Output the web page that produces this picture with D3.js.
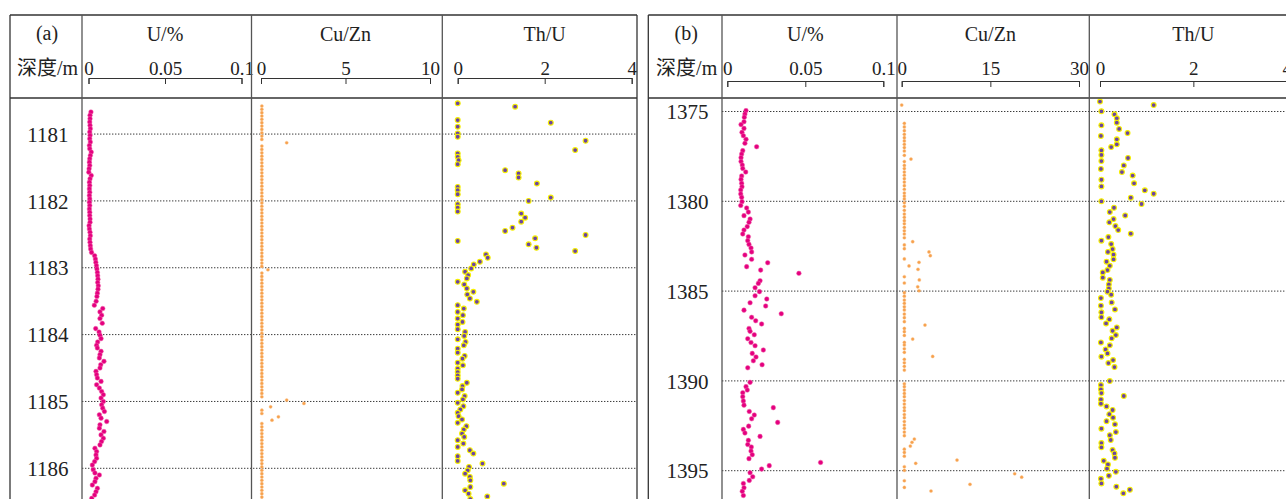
<!DOCTYPE html>
<html>
<head>
<meta charset="utf-8">
<script src="https://cdn.jsdelivr.net/npm/d3@7"></script>
<style>
  body { margin: 0; background: #fff; }
  svg { display: block; }
  text { font-family: "Liberation Serif", "Times New Roman", "Noto Sans CJK SC", serif; fill: #222; }
</style>
</head>
<body>
<div id="chart"></div>
<script>
// ---- data: [depth (m), value] ----
const depthTicksA = [1181, 1182, 1183, 1184, 1185, 1186];
const depthTicksB = [1375, 1380, 1385, 1390, 1395];
const uTicks = [0, 0.05, 0.1];
const cuznTicksA = [0, 5, 10];
const cuznTicksB = [0, 15, 30];
const thuTicks = [0, 2, 4];
const trackTitles = ["U/%", "Cu/Zn", "Th/U"];

const uA = [
  [1180.67,0.0016],[1180.72,0.0010],[1180.77,0.0010],[1180.82,0.0008],[1180.87,0.0010],[1180.92,0.0012],[1180.97,0.0008],[1181.02,0.0010],
  [1181.07,0.0008],[1181.12,0.0012],[1181.17,0.0006],[1181.22,0.0008],[1181.27,0.0018],[1181.32,0.0012],[1181.37,0.0008],[1181.42,0.0006],
  [1181.47,0.0008],[1181.52,0.0004],[1181.57,0.0002],[1181.62,0.0018],[1181.67,0.0010],[1181.72,0.0006],[1181.77,0.0008],[1181.82,0.0006],
  [1181.87,0.0008],[1181.92,0.0006],[1181.97,0.0008],[1182.02,0.0006],[1182.07,0.0008],[1182.12,0.0006],[1182.17,0.0008],[1182.22,0.0008],
  [1182.27,0.0010],[1182.32,0.0010],[1182.37,0.0004],[1182.42,0.0006],[1182.47,0.0010],[1182.52,0.0012],[1182.57,0.0008],[1182.62,0.0010],
  [1182.67,0.0012],[1182.72,0.0014],[1182.77,0.0020],[1182.82,0.0040],[1182.87,0.0045],[1182.92,0.0048],[1182.97,0.0052],[1183.02,0.0055],
  [1183.07,0.0058],[1183.12,0.0060],[1183.17,0.0062],[1183.22,0.0060],[1183.27,0.0064],[1183.32,0.0062],[1183.38,0.0058],[1183.43,0.0055],
  [1183.50,0.0050],[1183.56,0.0038],[1183.61,0.0093],[1183.66,0.0075],[1183.71,0.0086],[1183.76,0.0075],[1183.83,0.0090],[1183.91,0.0047],
  [1183.96,0.0069],[1184.01,0.0075],[1184.06,0.0082],[1184.11,0.0060],[1184.16,0.0053],[1184.20,0.0058],[1184.25,0.0082],[1184.30,0.0075],
  [1184.35,0.0071],[1184.40,0.0101],[1184.45,0.0080],[1184.50,0.0075],[1184.55,0.0049],[1184.60,0.0053],[1184.65,0.0058],[1184.70,0.0082],
  [1184.75,0.0053],[1184.80,0.0071],[1184.85,0.0086],[1184.90,0.0097],[1184.95,0.0082],[1185.00,0.0097],[1185.05,0.0086],[1185.10,0.0093],
  [1185.15,0.0104],[1185.20,0.0071],[1185.25,0.0082],[1185.30,0.0119],[1185.35,0.0075],[1185.40,0.0071],[1185.45,0.0101],[1185.50,0.0082],
  [1185.55,0.0097],[1185.60,0.0085],[1185.65,0.0075],[1185.70,0.0042],[1185.75,0.0053],[1185.80,0.0049],[1185.85,0.0053],[1185.90,0.0040],
  [1185.95,0.0025],[1186.02,0.0031],[1186.07,0.0042],[1186.10,0.0071],[1186.15,0.0049],[1186.20,0.0042],[1186.25,0.0025],[1186.30,0.0058],
  [1186.35,0.0049],[1186.40,0.0040],[1186.45,0.0021]
];

const cuznA = [
  [1180.58,0.05],[1180.63,0.05],[1180.68,0.05],[1180.73,0.05],[1180.78,0.05],[1180.83,0.05],[1180.88,0.05],[1180.93,0.05],
  [1180.98,0.05],[1181.03,0.05],[1181.08,0.05],[1181.13,1.52],[1181.18,0.05],[1181.23,0.05],[1181.28,0.05],[1181.33,0.05],
  [1181.38,0.05],[1181.43,0.05],[1181.48,0.05],[1181.53,0.05],[1181.58,0.05],[1181.63,0.05],[1181.68,0.05],[1181.73,0.05],
  [1181.78,0.05],[1181.83,0.05],[1181.88,0.05],[1181.93,0.05],[1181.98,0.05],[1182.03,0.05],[1182.08,0.05],[1182.13,0.05],
  [1182.18,0.05],[1182.23,0.05],[1182.28,0.05],[1182.33,0.05],[1182.38,0.05],[1182.43,0.05],[1182.48,0.05],[1182.53,0.05],
  [1182.58,0.05],[1182.63,0.05],[1182.68,0.05],[1182.73,0.05],[1182.78,0.05],[1182.83,0.05],[1182.88,0.05],[1182.93,0.05],
  [1182.98,0.05],[1183.03,0.41],[1183.08,0.05],[1183.13,0.05],[1183.18,0.05],[1183.23,0.05],[1183.28,0.05],[1183.33,0.05],
  [1183.38,0.05],[1183.43,0.05],[1183.48,0.05],[1183.53,0.05],[1183.58,0.05],[1183.63,0.05],[1183.68,0.05],[1183.73,0.05],
  [1183.78,0.05],[1183.83,0.05],[1183.88,0.05],[1183.93,0.05],[1183.98,0.05],[1184.03,0.05],[1184.08,0.05],[1184.13,0.05],
  [1184.18,0.05],[1184.23,0.05],[1184.28,0.05],[1184.33,0.05],[1184.38,0.05],[1184.43,0.05],[1184.48,0.05],[1184.53,0.05],
  [1184.58,0.05],[1184.63,0.05],[1184.68,0.05],[1184.73,0.05],[1184.78,0.05],[1184.83,0.05],[1184.88,0.05],[1184.93,0.05],
  [1184.98,1.52],[1185.03,2.54],[1185.08,0.57],[1185.13,0.05],[1185.18,0.05],[1185.23,1.03],[1185.28,0.65],[1185.33,0.05],
  [1185.38,0.05],[1185.43,0.05],[1185.48,0.05],[1185.53,0.05],[1185.58,0.05],[1185.63,0.05],[1185.68,0.05],[1185.73,0.05],
  [1185.78,0.05],[1185.83,0.05],[1185.88,0.05],[1185.93,0.05],[1185.98,0.05],[1186.03,0.05],[1186.08,0.05],[1186.13,0.05],
  [1186.18,0.05],[1186.23,0.05],[1186.28,0.05],[1186.33,0.05],[1186.38,0.05],[1186.43,0.05],[1186.48,0.05]
];

const thuA = [
  [1180.54,0.00],[1180.59,1.32],[1180.79,0.00],[1180.83,2.14],[1180.89,0.00],[1180.99,0.00],[1181.04,0.00],[1181.10,2.94],
  [1181.24,2.70],[1181.29,0.00],[1181.34,0.00],[1181.39,0.02],[1181.45,0.00],[1181.54,1.09],[1181.59,1.40],[1181.65,1.40],
  [1181.74,1.82],[1181.79,0.00],[1181.84,0.00],[1181.90,0.00],[1181.95,2.14],[1182.00,1.63],[1182.05,0.00],[1182.10,0.00],
  [1182.16,0.00],[1182.19,1.46],[1182.25,1.55],[1182.31,1.46],[1182.40,1.26],[1182.45,1.09],[1182.51,2.94],[1182.56,1.78],
  [1182.60,0.00],[1182.65,1.63],[1182.70,1.81],[1182.75,2.70],[1182.80,0.65],[1182.85,0.69],[1182.91,0.51],[1182.95,0.37],
  [1183.01,0.31],[1183.06,0.17],[1183.11,0.24],[1183.16,0.21],[1183.21,0.00],[1183.25,0.15],[1183.31,0.21],[1183.36,0.36],
  [1183.40,0.22],[1183.46,0.28],[1183.51,0.44],[1183.56,0.00],[1183.61,0.14],[1183.66,0.00],[1183.71,0.12],[1183.76,0.00],
  [1183.81,0.11],[1183.85,0.00],[1183.92,0.00],[1183.96,0.17],[1184.02,0.15],[1184.07,0.00],[1184.11,0.18],[1184.16,0.14],
  [1184.21,0.00],[1184.27,0.00],[1184.32,0.16],[1184.36,0.11],[1184.42,0.00],[1184.46,0.12],[1184.51,0.00],[1184.56,0.00],
  [1184.61,0.00],[1184.66,0.00],[1184.72,0.21],[1184.77,0.11],[1184.82,0.10],[1184.87,0.00],[1184.92,0.16],[1184.97,0.12],
  [1185.02,0.00],[1185.07,0.13],[1185.12,0.06],[1185.17,0.00],[1185.22,0.02],[1185.27,0.10],[1185.32,0.00],[1185.37,0.20],
  [1185.42,0.14],[1185.48,0.10],[1185.53,0.15],[1185.58,0.00],[1185.63,0.13],[1185.68,0.00],[1185.73,0.28],[1185.78,0.36],
  [1185.82,0.00],[1185.89,0.00],[1185.93,0.57],[1185.98,0.26],[1186.03,0.23],[1186.08,0.17],[1186.13,0.28],[1186.18,0.29],
  [1186.23,1.06],[1186.28,0.29],[1186.33,0.17],[1186.38,0.25],[1186.42,0.68],[1186.46,0.29]
];

const uB = [
  [1374.95,0.0120],[1375.14,0.0113],[1375.32,0.0109],[1375.57,0.0107],[1375.73,0.0088],[1375.94,0.0107],[1376.16,0.0094],[1376.35,0.0103],
  [1376.55,0.0120],[1376.77,0.0113],[1376.96,0.0188],[1377.18,0.0099],[1377.37,0.0092],[1377.57,0.0088],[1377.78,0.0088],[1377.98,0.0096],
  [1378.17,0.0099],[1378.37,0.0118],[1378.59,0.0092],[1378.78,0.0088],[1379.00,0.0092],[1379.19,0.0094],[1379.37,0.0086],[1379.59,0.0086],
  [1379.78,0.0092],[1380.02,0.0094],[1380.23,0.0086],[1380.37,0.0124],[1380.60,0.0135],[1380.80,0.0107],[1380.99,0.0146],[1381.17,0.0139],
  [1381.41,0.0128],[1381.60,0.0107],[1381.82,0.0099],[1381.97,0.0135],[1382.19,0.0131],[1382.40,0.0139],[1382.60,0.0152],[1382.82,0.0156],
  [1382.99,0.0113],[1383.23,0.0156],[1383.42,0.0259],[1383.64,0.0124],[1383.83,0.0214],[1384.01,0.0459],[1384.42,0.0210],[1384.57,0.0199],
  [1384.81,0.0178],[1385.03,0.0206],[1385.26,0.0178],[1385.44,0.0253],[1385.65,0.0146],[1385.83,0.0246],[1386.06,0.0107],[1386.26,0.0346],
  [1386.46,0.0156],[1386.65,0.0182],[1386.83,0.0220],[1387.08,0.0139],[1387.24,0.0146],[1387.43,0.0173],[1387.65,0.0131],[1387.86,0.0152],
  [1388.04,0.0178],[1388.28,0.0231],[1388.47,0.0160],[1388.67,0.0184],[1388.88,0.0167],[1389.10,0.0223],[1389.27,0.0131],[1390.08,0.0146],
  [1390.32,0.0120],[1390.51,0.0128],[1390.66,0.0099],[1390.88,0.0099],[1391.12,0.0103],[1391.35,0.0107],[1391.49,0.0295],[1391.70,0.0141],
  [1391.90,0.0173],[1392.11,0.0156],[1392.31,0.0323],[1392.52,0.0137],[1392.70,0.0103],[1392.90,0.0113],[1393.09,0.0210],[1393.31,0.0135],
  [1393.54,0.0131],[1393.68,0.0154],[1393.91,0.0152],[1394.11,0.0160],[1394.33,0.0139],[1394.54,0.0598],[1394.72,0.0269],[1394.91,0.0220],
  [1395.11,0.0146],[1395.34,0.0163],[1395.54,0.0141],[1395.71,0.0103],[1395.95,0.0107],[1396.15,0.0096],[1396.38,0.0103]
];

const cuznB = [
  [1374.64,0.00],[1375.66,0.45],[1375.86,0.45],[1376.07,0.45],[1376.27,0.45],[1376.46,0.45],[1376.64,0.45],[1376.83,0.45],
  [1377.01,0.45],[1377.20,0.45],[1377.44,0.45],[1377.65,1.57],[1377.79,0.45],[1378.00,0.45],[1378.18,0.45],[1378.37,0.45],
  [1378.55,0.45],[1378.74,0.45],[1378.93,0.45],[1379.13,0.45],[1379.33,0.45],[1379.54,0.45],[1379.71,0.45],[1379.87,0.45],
  [1380.08,0.45],[1380.28,0.45],[1380.50,0.45],[1380.71,0.45],[1380.89,0.45],[1381.08,0.45],[1381.25,0.45],[1381.45,0.45],
  [1381.64,0.45],[1381.82,0.45],[1382.03,0.45],[1382.25,1.86],[1382.43,0.45],[1382.64,0.45],[1382.82,4.62],[1383.03,4.84],
  [1383.21,0.45],[1383.40,2.93],[1383.60,1.24],[1383.79,2.76],[1384.20,0.45],[1384.38,2.98],[1384.55,0.45],[1384.76,2.71],
  [1384.98,2.93],[1385.09,0.45],[1385.28,0.45],[1385.50,0.45],[1385.68,0.45],[1385.87,0.45],[1386.05,0.45],[1386.28,0.45],
  [1386.48,0.45],[1386.70,0.45],[1386.89,3.94],[1387.08,0.45],[1387.26,0.45],[1387.47,0.45],[1387.67,1.86],[1387.86,0.45],
  [1388.00,0.45],[1388.21,0.45],[1388.41,0.45],[1388.64,5.24],[1388.80,0.45],[1388.99,0.45],[1389.19,0.45],[1389.40,0.45],
  [1390.16,0.45],[1390.32,0.45],[1390.51,0.45],[1390.70,0.45],[1390.88,0.45],[1391.09,0.45],[1391.29,0.45],[1391.48,0.45],
  [1391.66,0.45],[1391.87,0.45],[1392.05,0.45],[1392.26,0.45],[1392.46,0.45],[1392.64,0.45],[1392.85,0.45],[1393.05,0.45],
  [1393.24,2.14],[1393.42,1.74],[1393.63,1.46],[1393.80,0.45],[1393.98,0.45],[1394.19,0.45],[1394.41,9.36],[1394.59,2.37],
  [1394.78,0.45],[1394.98,0.45],[1395.17,19.12],[1395.36,20.30],[1395.56,0.45],[1395.76,11.56],[1395.93,0.45],[1396.13,4.96]
];

const thuB = [
  [1374.45,0.00],[1374.64,1.15],[1374.99,0.03],[1375.16,0.31],[1375.38,0.36],[1375.62,0.36],[1375.77,0.03],[1375.97,0.41],
  [1376.20,0.59],[1376.36,0.02],[1376.55,0.36],[1376.83,0.36],[1376.98,0.24],[1377.16,0.03],[1377.42,0.03],[1377.59,0.60],
  [1377.76,0.03],[1378.00,0.51],[1378.20,0.02],[1378.37,0.47],[1378.57,0.70],[1378.80,0.03],[1379.00,0.73],[1379.17,0.03],
  [1379.39,0.96],[1379.58,1.15],[1379.80,0.66],[1380.00,0.03],[1380.15,0.89],[1380.36,0.30],[1380.60,0.21],[1380.79,0.54],
  [1380.99,0.29],[1381.17,0.20],[1381.38,0.33],[1381.60,0.39],[1381.80,0.66],[1381.99,0.18],[1382.19,0.03],[1382.38,0.24],
  [1382.66,0.27],[1382.82,0.17],[1382.97,0.29],[1383.23,0.29],[1383.36,0.14],[1383.59,0.21],[1383.83,0.16],[1383.96,0.06],
  [1384.25,0.06],[1384.38,0.21],[1384.63,0.19],[1384.85,0.19],[1385.03,0.16],[1385.20,0.24],[1385.39,0.02],[1385.63,0.25],
  [1385.81,0.02],[1386.02,0.32],[1386.18,0.03],[1386.45,0.03],[1386.57,0.20],[1386.80,0.13],[1387.02,0.36],[1387.21,0.27],
  [1387.45,0.34],[1387.63,0.25],[1387.86,0.02],[1388.02,0.21],[1388.25,0.12],[1388.47,0.16],[1388.65,0.03],[1388.84,0.28],
  [1389.01,0.18],[1389.23,0.31],[1390.01,0.21],[1390.23,0.02],[1390.47,0.02],[1390.68,0.03],[1390.84,0.51],[1391.03,0.02],
  [1391.27,0.02],[1391.42,0.14],[1391.62,0.27],[1391.85,0.20],[1392.05,0.28],[1392.24,0.14],[1392.42,0.32],[1392.66,0.03],
  [1392.85,0.34],[1393.02,0.21],[1393.29,0.23],[1393.46,0.03],[1393.70,0.03],[1393.85,0.27],[1394.04,0.31],[1394.28,0.32],
  [1394.45,0.08],[1394.65,0.17],[1394.89,0.15],[1395.06,0.34],[1395.28,0.19],[1395.45,0.02],[1395.71,0.03],[1395.89,0.35],
  [1396.06,0.64],[1396.26,0.50]
];

// ---- layout & styles ----
const WIDTH = 1286, HEIGHT = 499;
const TOP = 15, HEADER_BOTTOM = 98;
const markStyles = {
  u:    { r: 2.3, fill: "#e4007f", stroke: "#f060a8", sw: 0.5 },
  cuzn: { r: 1.6, fill: "#f7a04c", stroke: "#fbc48e", sw: 0.4 },
  thu:  { r: 2.45, fill: "#6c45a0", stroke: "#f6f000", sw: 1.1 }
};

const panels = [
  {
    label: "(a)", cols: [10, 82, 251.5, 442.3, 637],
    depthDomain: [1181, 1186], depthRange: [134.07, 468.3], depthTicks: depthTicksA, axisY: 78,
    tracks: [
      { domain: [0, 0.1], range: [88.5, 241.5], ticks: uTicks, data: uA, style: "u" },
      { domain: [0, 10], range: [261, 430], ticks: cuznTicksA, data: cuznA, style: "cuzn" },
      { domain: [0, 4], range: [457.7, 631.7], ticks: thuTicks, data: thuA, style: "thu" }
    ]
  },
  {
    label: "(b)", cols: [648.3, 722, 897, 1089.3, 1300],
    depthDomain: [1375, 1395], depthRange: [111.5, 470.7], depthTicks: depthTicksB, axisY: 81,
    tracks: [
      { domain: [0, 0.1], range: [727.3, 883.3], ticks: uTicks, data: uB, style: "u" },
      { domain: [0, 30], range: [901.7, 1079], ticks: cuznTicksB, data: cuznB, style: "cuzn" },
      { domain: [0, 4], range: [1100, 1286.7], ticks: thuTicks, data: thuB, style: "thu" }
    ]
  }
];

const svg = d3.select("#chart").append("svg")
  .attr("width", WIDTH).attr("height", HEIGHT)
  .style("background", "#fff");

svg.append("defs").append("clipPath").attr("id", "plotClip")
  .append("rect").attr("x", 0).attr("y", HEADER_BOTTOM).attr("width", WIDTH).attr("height", HEIGHT - HEADER_BOTTOM);

const tickFmt = d => String(d);

function renderPanel(p) {
  const g = svg.append("g");
  const cols = p.cols;
  const left = cols[0], right = cols[cols.length - 1];
  const y = d3.scaleLinear().domain(p.depthDomain).range(p.depthRange);
  const depthCenter = (cols[0] + cols[1]) / 2;

  // dotted depth gridlines across the data tracks
  g.append("g").selectAll("line").data(p.depthTicks).enter().append("line")
    .attr("x1", cols[1]).attr("x2", right)
    .attr("y1", d => y(d)).attr("y2", d => y(d))
    .attr("stroke", "#3a3a3a").attr("stroke-width", 1).attr("stroke-dasharray", "1.4,1.6");

  // depth labels
  const depthAxis = g.append("g")
    .attr("transform", `translate(${cols[1] - 13.5},0)`)
    .call(d3.axisLeft(y).tickValues(p.depthTicks).tickSize(0).tickPadding(0).tickFormat(d3.format("d")));
  depthAxis.select(".domain").remove();
  depthAxis.attr("font-family", null).attr("font-size", null);
  depthAxis.selectAll("text").style("font-size", "21px").attr("dy", "0.34em").attr("fill", "#222");

  // header texts of depth column
  g.append("text").attr("x", depthCenter + 1).attr("y", 40).attr("text-anchor", "middle")
    .style("font-size", "20px").text(p.label);
  g.append("text").attr("x", depthCenter + 1.5).attr("y", 75).attr("text-anchor", "middle")
    .style("font-size", "20px").text("深度/m");

  // tracks
  p.tracks.forEach((t, i) => {
    const x = d3.scaleLinear().domain(t.domain).range(t.range);
    const mid = (t.range[0] + t.range[1]) / 2;

    g.append("text").attr("x", mid).attr("y", 41).attr("text-anchor", "middle")
      .style("font-size", "20px").text(trackTitles[i]);

    const lab = g.append("g").attr("transform", `translate(0,75)`)
      .call(d3.axisTop(x).tickValues(t.ticks).tickSize(0).tickPadding(0).tickFormat(tickFmt));
    lab.select(".domain").remove();
    lab.attr("font-family", null).attr("font-size", null);
    lab.selectAll("text").style("font-size", "19px").attr("fill", "#222");

    const br = g.append("g").attr("transform", `translate(0,${p.axisY})`)
      .call(d3.axisBottom(x).tickValues(t.ticks).tickSize(6).tickSizeOuter(6).tickFormat(""));
    br.selectAll("path,line").attr("stroke", "#333").attr("stroke-width", 1);

    const s = markStyles[t.style];
    g.append("g").attr("clip-path", "url(#plotClip)")
      .selectAll("circle").data(t.data).enter().append("circle")
      .attr("cx", d => x(d[1])).attr("cy", d => y(d[0])).attr("r", s.r)
      .attr("fill", s.fill).attr("stroke", s.stroke).attr("stroke-width", s.sw);
  });

  // frame
  g.append("line").attr("x1", left).attr("x2", right).attr("y1", TOP).attr("y2", TOP)
    .attr("stroke", "#333").attr("stroke-width", 1.3);
  g.append("line").attr("x1", left).attr("x2", right).attr("y1", HEADER_BOTTOM).attr("y2", HEADER_BOTTOM)
    .attr("stroke", "#333").attr("stroke-width", 1.3);
  g.append("g").selectAll("line").data(cols).enter().append("line")
    .attr("x1", d => d).attr("x2", d => d).attr("y1", TOP).attr("y2", HEIGHT + 5)
    .attr("stroke", (d, i) => i === 0 || i === cols.length - 1 ? "#333" : "#555")
    .attr("stroke-width", 1.3);
}

panels.forEach(renderPanel);
</script>
</body>
</html>
